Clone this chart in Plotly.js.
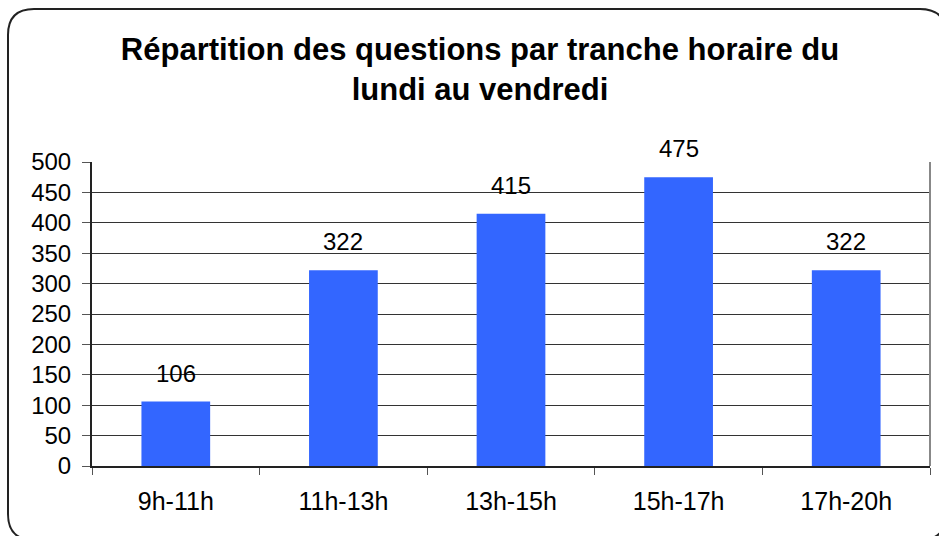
<!DOCTYPE html>
<html>
<head>
<meta charset="utf-8">
<script src="https://cdn.plot.ly/plotly-3.0.1.min.js"></script>
<style>html,body{margin:0;padding:0;background:#fff;}#chart{width:939px;height:536px;}</style>
</head>
<body>
<div id="chart"></div>
<script>
const categories = ["9h-11h", "11h-13h", "13h-15h", "15h-17h", "17h-20h"];
const values = [106, 322, 415, 475, 322];
const yTicks = [0, 50, 100, 150, 200, 250, 300, 350, 400, 450, 500];
const titleText = "Répartition des questions par tranche horaire du<br>lundi au vendredi";

const W = 939, H = 536;
const mL = 92, mR = 9, mT = 162, mB = 70;
const pw = W - mL - mR, ph = H - mT - mB;
function px(x) { return (x - mL) / pw; }
function py(y) { return (H - mB - y) / ph; }

// rounded frame in pixel terms converted to paper coords
const fx0 = 8, fx1 = 946, fy0 = 9, fy1 = 540, r = 26;
const framePath =
  `M ${px(fx0 + r)},${py(fy0)} L ${px(fx1 - r)},${py(fy0)} ` +
  `Q ${px(fx1)},${py(fy0)} ${px(fx1)},${py(fy0 + r)} ` +
  `L ${px(fx1)},${py(fy1 - r)} Q ${px(fx1)},${py(fy1)} ${px(fx1 - r)},${py(fy1)} ` +
  `L ${px(fx0 + r)},${py(fy1)} Q ${px(fx0)},${py(fy1)} ${px(fx0)},${py(fy1 - r)} ` +
  `L ${px(fx0)},${py(fy0 + r)} Q ${px(fx0)},${py(fy0)} ${px(fx0 + r)},${py(fy0)} Z`;

const font = "Liberation Sans, Arial, sans-serif";

const trace = {
  type: "bar",
  x: categories,
  y: values,
  marker: { color: "#3366FF", line: { width: 0 } },
  hoverinfo: "x+y"
};

const annotations = categories.map((c, i) => ({
  x: c, y: values[i], xref: "x", yref: "y",
  text: String(values[i]), showarrow: false,
  yanchor: "bottom", yshift: 13,
  font: { family: font, size: 24, color: "#000" }
}));

const layout = {
  width: W, height: H,
  margin: { l: mL, r: mR, t: mT, b: mB, pad: 0 },
  paper_bgcolor: "#ffffff",
  plot_bgcolor: "#ffffff",
  showlegend: false,
  bargap: 0.59,
  title: {
    text: titleText,
    font: { family: font, size: 31, color: "#000", weight: "bold" },
    x: 480 / W, xanchor: "center", xref: "container",
    y: 1 - 60 / H, yanchor: "middle", yref: "container"
  },
  xaxis: {
    type: "category",
    showgrid: false,
    ticks: "outside", ticklen: 7, tickcolor: "#555", tickwidth: 1,
    tickson: "boundaries",
    showline: true, linecolor: "#222", linewidth: 2,
    tickfont: { family: font, size: 25, color: "#000" },
    ticklabelstandoff: 12,
    fixedrange: true
  },
  yaxis: {
    range: [0, 500],
    tickvals: yTicks,
    ticks: "outside", ticklen: 8, tickcolor: "#555", tickwidth: 1,
    showline: true, linecolor: "#222", linewidth: 2,
    showgrid: true, gridcolor: "#333", gridwidth: 1,
    zeroline: false,
    tickfont: { family: font, size: 24, color: "#000" },
    ticklabelstandoff: 6,
    fixedrange: true
  },
  annotations: annotations,
  shapes: [
    { type: "line", xref: "paper", yref: "paper", x0: 1, x1: 1, y0: 0, y1: 1,
      line: { color: "#888", width: 2 } },
    { type: "path", xref: "paper", yref: "paper", path: framePath,
      line: { color: "#222", width: 2 }, fillcolor: "rgba(0,0,0,0)", layer: "above" }
  ]
};

Plotly.newPlot("chart", [trace], layout, { displayModeBar: false, staticPlot: false });
</script>
</body>
</html>
